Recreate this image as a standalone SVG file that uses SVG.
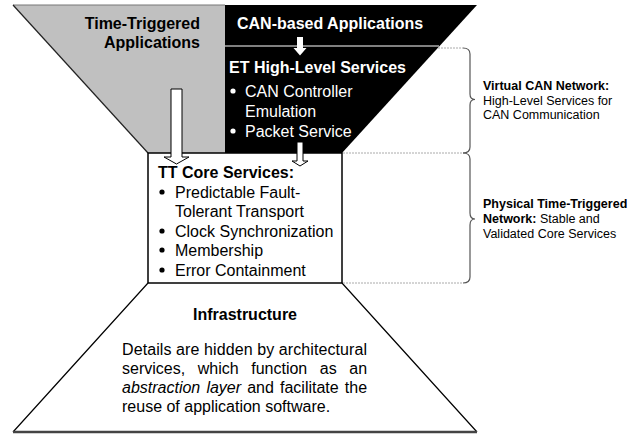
<svg xmlns="http://www.w3.org/2000/svg" width="643" height="434" viewBox="0 0 643 434">
<style>
text{font-family:"Liberation Sans",Arial,sans-serif;}
.b16{font-size:16px;font-weight:bold;}
.r16{font-size:16px;}
.w{fill:#fff;}
.k{fill:#000;}
.lab{font-size:12.5px;fill:#000;}
.dot{stroke:#aaa;stroke-width:1;stroke-dasharray:2,1;fill:none;}
.brace{stroke:#555;stroke-width:1.2;fill:none;}
.arrow{fill:#fff;stroke:#000;stroke-width:1;}
</style>
<rect width="643" height="434" fill="#fff"/>
<g id="apps-tt">
<polygon points="13,5 225,5 225,153 148,153" fill="#c0c0c0"/>
<line x1="13" y1="5" x2="225" y2="5" stroke="#777" stroke-width="1"/>
<line x1="13" y1="5" x2="148" y2="153" stroke="#222" stroke-width="1.2"/>
<text class="b16 k" x="200" y="29" text-anchor="end">Time-Triggered</text>
<text class="b16 k" x="200" y="47.5" text-anchor="end">Applications</text>
</g>
<g id="apps-can">
<polygon points="225,5 477,5 342,153 225,153" fill="#000"/>
<line x1="225" y1="46" x2="439" y2="46" stroke="#fff" stroke-width="1"/>
<text class="b16 w" x="237" y="29">CAN-based Applications</text>
</g>
<g id="et-services">
<text class="b16 w" x="229" y="72.5">ET High-Level Services</text>
<circle cx="233" cy="91" r="2.6" fill="#fff"/>
<text class="r16 w" x="245" y="96.5">CAN Controller</text>
<text class="r16 w" x="245" y="116.5">Emulation</text>
<circle cx="233" cy="131" r="2.6" fill="#fff"/>
<text class="r16 w" x="245" y="136.5">Packet Service</text>
</g>
<g id="tt-core">
<rect x="148" y="153" width="194" height="130" fill="#fff" stroke="#000" stroke-width="1.5"/>
<text class="b16 k" x="158" y="177.5">TT Core Services:</text>
<circle cx="162" cy="192" r="2.6" fill="#000"/>
<text class="r16 k" x="175" y="197.5">Predictable Fault-</text>
<text class="r16 k" x="175" y="216.5">Tolerant Transport</text>
<circle cx="162" cy="231" r="2.6" fill="#000"/>
<text class="r16 k" x="175" y="236.5">Clock Synchronization</text>
<circle cx="162" cy="250" r="2.6" fill="#000"/>
<text class="r16 k" x="175" y="255.5">Membership</text>
<circle cx="162" cy="270" r="2.6" fill="#000"/>
<text class="r16 k" x="175" y="275.5">Error Containment</text>
</g>
<g id="infrastructure">
<path d="M148,283 L13,432 M342,283 L477,432" stroke="#000" stroke-width="1.2" fill="none"/>
<line x1="13" y1="432" x2="477" y2="432" stroke="#444" stroke-width="2.5"/>
<text class="b16 k" x="245" y="320" text-anchor="middle">Infrastructure</text>
<text class="r16 k" x="122" y="355" textLength="245" lengthAdjust="spacing">Details are hidden by architectural</text>
<text class="r16 k" y="374"><tspan x="122">services,</tspan><tspan x="197.7">which</tspan><tspan x="251.2">function</tspan><tspan x="319.8">as</tspan><tspan x="349.3">an</tspan></text>
<text class="r16 k" y="393"><tspan x="122" font-style="italic">abstraction</tspan><tspan x="206.4" font-style="italic">layer</tspan><tspan x="247.2">and</tspan><tspan x="280">facilitate</tspan><tspan x="344.8">the</tspan></text>
<text class="r16 k" x="122" y="412">reuse of application software.</text>
</g>
<g id="label-virtual">
<text class="lab" x="483" y="90" font-weight="bold">Virtual CAN Network:</text>
<text class="lab" x="483" y="104.5">High-Level Services for</text>
<text class="lab" x="483" y="119">CAN Communication</text>
</g>
<g id="label-physical">
<text class="lab" x="483" y="208" font-weight="bold">Physical Time-Triggered</text>
<text class="lab" x="483" y="223"><tspan font-weight="bold">Network:</tspan> Stable and</text>
<text class="lab" x="483" y="237.5">Validated Core Services</text>
</g>
<g id="connectors">
<polygon class="arrow" points="171,89 182,89 182,157 189,157 176.5,164 164,157 171,157"/>
<polygon points="297,37 303,37 303,48 306.5,48 300,55.5 293.5,48 297,48" fill="#fff"/>
<polygon class="arrow" points="297,142 303,142 303,161 308,161 300,166 292,161 297,161"/>
<line class="dot" x1="438" y1="48" x2="463" y2="48"/>
<line class="dot" x1="343" y1="153" x2="463" y2="153"/>
<line class="dot" x1="343" y1="283" x2="463" y2="283"/>
<path class="brace" d="M463,48 Q470,48 470,54 L470,94 Q470,99.5 475,99.5 Q470,99.5 470,105 L470,147 Q470,153 463,153"/>
<path class="brace" d="M463,153 Q470,153 470,159 L470,213 Q470,219 475,219 Q470,219 470,225 L470,277 Q470,283 463,283"/>
</g>
</svg>
